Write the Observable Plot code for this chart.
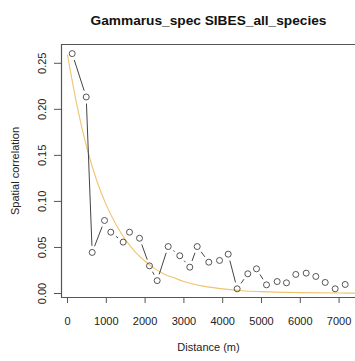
<!DOCTYPE html>
<html>
<head>
<meta charset="utf-8">
<script src="https://cdn.jsdelivr.net/npm/d3@7"></script>
<script src="https://cdn.jsdelivr.net/npm/@observablehq/plot@0.6"></script>
<style>
  html, body { margin: 0; padding: 0; background: #fff; }
  #chart svg { display: block; }
</style>
</head>
<body>
<div id="chart"></div>
<script>
const title = "Gammarus_spec SIBES_all_species";
const xLabel = "Distance (m)";
const yLabel = "Spatial correlation";

// observed correlogram points
const distance = [121, 482, 636, 954, 1116, 1435, 1598, 1856, 2113, 2311, 2595, 2894, 3152, 3343,
  3642, 3918, 4142, 4373, 4647, 4871, 5129, 5404, 5644, 5884, 6152, 6400, 6642, 6899, 7157];
const correlation = [0.2605, 0.2134, 0.0446, 0.0793, 0.0666, 0.0558, 0.0666, 0.0600, 0.0300, 0.0140,
  0.0510, 0.0410, 0.0286, 0.0510, 0.0340, 0.0359, 0.0427, 0.0051, 0.0214, 0.0268, 0.0094, 0.0130,
  0.0116, 0.0207, 0.0221, 0.0185, 0.0120, 0.0051, 0.0098];

// fitted curve
const curveDistance = [0, 250, 500, 750, 1000, 1250, 1500, 1750, 2000, 2250, 2500, 2750, 3000,
  3500, 4000, 4500, 5000, 6000, 7000, 7450];
const curveValue = [0.259, 0.203, 0.158, 0.123, 0.096, 0.075, 0.058, 0.045, 0.035, 0.027, 0.021,
  0.017, 0.013, 0.008, 0.005, 0.003, 0.002, 0.001, 0.0005, 0.0004];

const xTicks = [0, 1000, 2000, 3000, 4000, 5000, 6000, 7000];
const yTicks = [0, 0.05, 0.10, 0.15, 0.20, 0.25];
const yTickLabels = ["0.00", "0.05", "0.10", "0.15", "0.20", "0.25"];

const points = distance.map((d, i) => ({d, v: correlation[i]}));
const segments = points.slice(1).map((p, i) => ({d1: points[i].d, v1: points[i].v, d2: p.d, v2: p.v}));
const curve = curveDistance.map((d, i) => ({d, v: curveValue[i]}));
const yTickRows = yTicks.map((v, i) => ({v, label: yTickLabels[i]}));

const xDomain = [-155, 7423];
const yDomain = [-0.00434, 0.2704];
const font = "'Liberation Sans', Arial, Helvetica, sans-serif";
const ink = "#222";

const chart = Plot.plot({
  width: 355,
  height: 361,
  marginLeft: 61,
  marginRight: 0,
  marginTop: 44,
  marginBottom: 64,
  style: {fontFamily: font, fontSize: "11px", color: ink, background: "#fff"},
  x: {domain: xDomain, label: null},
  y: {domain: yDomain, label: null},
  marks: [
    Plot.ruleX([xDomain[0]], {stroke: "#555", strokeWidth: 1.2}),
    Plot.ruleY([yDomain[0], yDomain[1]], {stroke: "#555", strokeWidth: 1.2}),
    Plot.axisX({ticks: xTicks, tickSize: 6, tickFormat: () => "", label: null, stroke: "#555"}),
    Plot.axisY({ticks: yTicks, tickSize: 7, tickFormat: () => "", label: null, stroke: "#555"}),
    Plot.text(xTicks, {x: d => d, text: d => String(d), frameAnchor: "bottom", dy: 24, lineAnchor: "middle", fill: ink, fontSize: 11}),
    Plot.text(yTickRows, {y: "v", text: "label", frameAnchor: "left", dx: -19, rotate: -90, textAnchor: "middle", lineAnchor: "middle", fill: ink, fontSize: 11}),
    Plot.line(curve, {x: "d", y: "v", stroke: "#efc46e", strokeWidth: 1.1, curve: "monotone-x"}),
    Plot.arrow(segments, {x1: "d1", y1: "v1", x2: "d2", y2: "v2", headLength: 0, inset: 7, stroke: "#444", strokeWidth: 1}),
    Plot.dot(points, {x: "d", y: "v", r: 3, stroke: "#555", fill: "none", strokeWidth: 1}),
    Plot.text([title], {text: d => d, frameAnchor: "top", dy: -24, lineAnchor: "middle", fontWeight: "bold", fontSize: 13.7, fill: "#111"}),
    Plot.text([xLabel], {text: d => d, frameAnchor: "bottom", dy: 50, lineAnchor: "middle", fontSize: 11, fill: ink}),
    Plot.text([yLabel], {text: d => d, frameAnchor: "left", dx: -46, rotate: -90, textAnchor: "middle", lineAnchor: "middle", fontSize: 11, fill: ink})
  ]
});
document.getElementById("chart").appendChild(chart);
</script>
</body>
</html>
